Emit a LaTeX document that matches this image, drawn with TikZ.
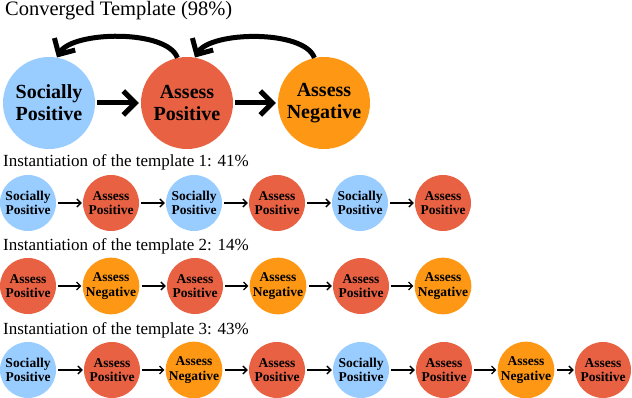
\documentclass[tikz,border=0pt]{standalone}
\usepackage{fontspec}
\setmainfont{Liberation Serif}
\usetikzlibrary{arrows.meta}
\definecolor{cblue}{HTML}{99CCFF}
\definecolor{cred}{HTML}{E86143}
\definecolor{corange}{HTML}{FD9714}
\def\txtSP{Socially\\Positive}
\def\txtAP{Assess\\Positive}
\def\txtAN{Assess\\Negative}
\begin{document}
\begin{tikzpicture}[x=1pt,y=-1pt,
  big/.style={circle,inner sep=0pt,minimum size=92pt,align=center,font=\fontsize{20}{22}\selectfont\bfseries},
  small/.style={circle,inner sep=0pt,minimum size=56pt,align=center,font=\fontsize{13.5}{14.5}\selectfont\bfseries},
  SP/.style={fill=cblue}, AP/.style={fill=cred}, AN/.style={fill=corange},
  bigarrow/.style={line width=5pt,-{Straight Barb[length=12pt,width=24pt]}},
  smallarrow/.style={line width=1.3pt,-{Straight Barb[length=4pt,width=8pt]},shorten <=2pt,shorten >=1pt},
  title/.style={anchor=base west,inner sep=0pt,font=\fontsize{20.5}{22}\selectfont},
  rowlabel/.style={anchor=base west,inner sep=0pt,font=\fontsize{17}{19}\selectfont}]
\useasboundingbox (0,0) rectangle (632,398);
\node[title] (t0) at (5,16) {Converged Template (98\%)};
\node[big,SP] (sp) at (49,103) {\txtSP};
\node[big,AP] (ap) at (187,103) {\txtAP};
\node[big,AN] (an) at (324,103) {\txtAN};
\draw[bigarrow,shorten <=2pt,shorten >=2pt] (sp) -- (ap);
\draw[bigarrow,shorten <=2pt,shorten >=2pt] (ap) -- (an);
\draw[bigarrow] (ap.102) to[out=110,in=60,looseness=0.65] (sp.80);
\draw[bigarrow] (an.102) to[out=110,in=60,looseness=0.65] (ap.80);

\node[rowlabel] (t1) at (3,167) {Instantiation of the template 1: 41\%};
\foreach \x/\t [count=\i] in {28/SP,111/AP,194/SP,277/AP,360/SP,443/AP}
  \node[small,\t] (ra\i) at (\x,203) {\csname txt\t\endcsname};
\foreach \i in {2,...,6} {\pgfmathtruncatemacro\j{\i-1}
  \draw[smallarrow] (ra\j) -- (ra\i);}

\node[rowlabel] (t2) at (3,251) {Instantiation of the template 2: 14\%};
\foreach \x/\t [count=\i] in {28/AP,111/AN,195/AP,278/AN,361/AP,443/AN}
  \node[small,\t] (rb\i) at (\x,286) {\csname txt\t\endcsname};
\foreach \i in {2,...,6} {\pgfmathtruncatemacro\j{\i-1}
  \draw[smallarrow] (rb\j) -- (rb\i);}

\node[rowlabel] (t3) at (3,334) {Instantiation of the template 3: 43\%};
\foreach \x/\t [count=\i] in {28/SP,112/AP,194/AN,277/AP,361/SP,444/AP,526/AN,603/AP}
  \node[small,\t] (rc\i) at (\x,370) {\csname txt\t\endcsname};
\foreach \i in {2,...,8} {\pgfmathtruncatemacro\j{\i-1}
  \draw[smallarrow] (rc\j) -- (rc\i);}
\end{tikzpicture}
\end{document}
